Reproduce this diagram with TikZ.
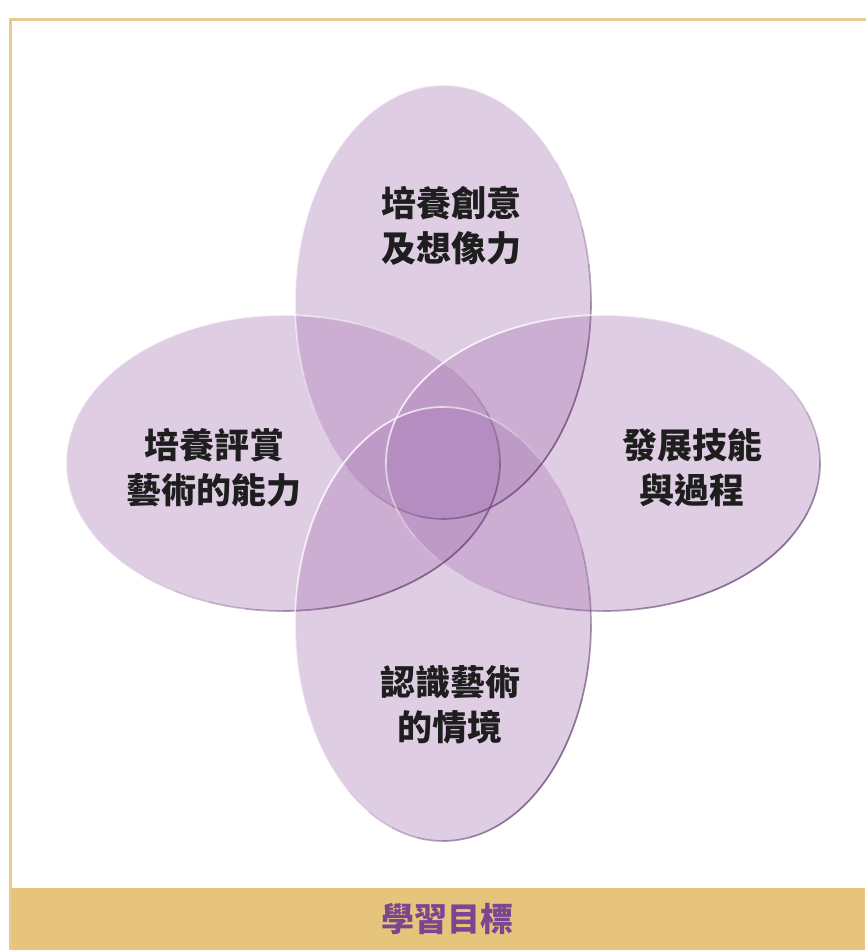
\documentclass[tikz,border=0pt]{standalone}
\usepackage{fontspec}
\usepackage{xcolor}
\usepackage{tikz}
\usetikzlibrary{positioning,calc}
\newfontfamily\cjk{Noto Sans CJK TC}
\definecolor{petal}{HTML}{A878B4}
\definecolor{rim}{HTML}{5E3A6C}
\definecolor{gold}{HTML}{E6C47C}
\definecolor{goldline}{HTML}{E8C98E}
\definecolor{plum}{HTML}{7A4690}
\definecolor{ink}{HTML}{1E1E1E}

\begin{document}
\begin{tikzpicture}[x=1pt,y=1pt,
  petaltext/.style={font=\cjk\bfseries\fontsize{35}{45}\selectfont,text=ink,align=center,inner sep=0pt}]
  \useasboundingbox (0,0) rectangle (865,950);
  \fill[white] (0,0) rectangle (865,950);
  % frame and title bar
  \draw[goldline,line width=3pt] (10,0) -- (10,930) -- (866,930);
  \fill[gold] (11.5,0) rectangle (865,62);
  \node[font=\cjk\bfseries\fontsize{33}{40}\selectfont,text=plum] (title) at (447,31) {學習目標};
  % petals
  \foreach \cx/\cy/\rx/\ry in {443/648/148/217,283/487/217/148,603/487/217/148,443/326/148/217}{
    \fill[petal,fill opacity=0.36] (\cx,\cy) ellipse [x radius=\rx pt,y radius=\ry pt];
  }
  % soft rims: light on the upper left, dark on the lower right
  \foreach \cx/\cy/\rx/\ry in {443/648/148/217,283/487/217/148,603/487/217/148,443/326/148/217}{
    \foreach \a in {40,50,...,220}{
      \pgfmathsetmacro{\op}{0.85*sin((\a-40)/190*180+5)}
      \draw[white,opacity=\op,line width=1.7pt] (\cx,\cy) ++(\a:\rx pt and \ry pt)
        arc[start angle=\a,end angle=\a+10,x radius=\rx pt,y radius=\ry pt];
    }
    \foreach \a in {230,240,...,390}{
      \pgfmathsetmacro{\op}{0.7*sin((\a-230)/170*180+5)}
      \draw[rim,opacity=\op,line width=1.7pt] (\cx,\cy) ++(\a:\rx pt and \ry pt)
        arc[start angle=\a,end angle=\a+10,x radius=\rx pt,y radius=\ry pt];
    }
  }
  % labels
  \node[petaltext] (creative) at (451,724) {培養創意\\及想像力};
  \node[petaltext] (appraise) at (214,482) {培養評賞\\藝術的能力};
  \node[petaltext] (skills) at (692,482) {發展技能\\與過程};
  \node[petaltext] (context) at (450,245) {認識藝術\\的情境};
\end{tikzpicture}
\end{document}
